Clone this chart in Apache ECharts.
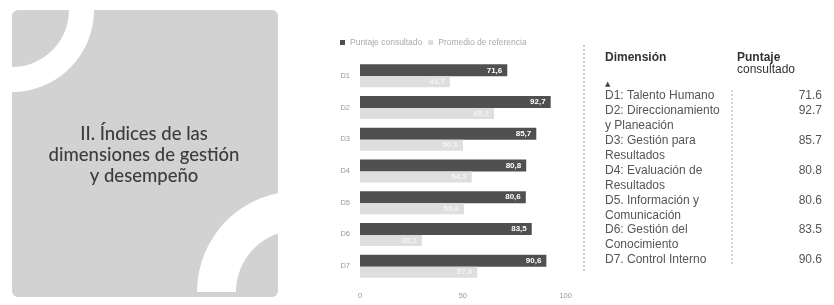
<!DOCTYPE html>
<html><head><meta charset="utf-8">
<script src="https://cdn.jsdelivr.net/npm/echarts@6/dist/echarts.min.js"></script>
<style>html,body{margin:0;padding:0;background:#fff}#c{width:834px;height:305px}</style>
</head><body><div id="c"></div>
<script>
var categories = ['D1','D2','D3','D4','D5','D6','D7'];
var puntajeConsultado = [71.6, 92.7, 85.7, 80.8, 80.6, 83.5, 90.6];
var promedioReferencia = [43.7, 65.2, 50.1, 54.3, 50.6, 30.1, 57.0];
var xTicks = [0, 50, 100];
var seriesNames = ['Puntaje consultado', 'Promedio de referencia'];
var tableDimensions = [
  ['D1: Talento Humano'],
  ['D2: Direccionamiento', 'y Planeación'],
  ['D3: Gestión para', 'Resultados'],
  ['D4: Evaluación de', 'Resultados'],
  ['D5. Información y', 'Comunicación'],
  ['D6: Gestión del', 'Conocimiento'],
  ['D7. Control Interno']
];
var tableValues = ['71.6', '92.7', '85.7', '80.8', '80.6', '83.5', '90.6'];
var titleLines = ['II. Índices de las', 'dimensiones de gestión', 'y desempeño'];

var chart = echarts.init(document.getElementById('c'));
var fmt = function (p) { return p.value.toFixed(1).replace('.', ','); };

var graphics = [];
// left panel
graphics.push({type:'rect', shape:{x:12,y:10,width:266,height:287,r:6}, style:{fill:'#d2d2d2'}, z:1});
graphics.push({type:'sector', shape:{cx:12,cy:10,r:82,r0:57,startAngle:0,endAngle:Math.PI/2}, style:{fill:'#ffffff'}, z:2});
graphics.push({type:'sector', shape:{cx:298,cy:292,r:101,r0:62,startAngle:Math.PI,endAngle:Math.PI*1.5}, style:{fill:'#ffffff'}, z:2});
graphics.push({type:'rect', shape:{x:278,y:0,width:30,height:305}, style:{fill:'#ffffff'}, z:3});
graphics.push({type:'rect', shape:{x:0,y:297,width:310,height:10}, style:{fill:'#ffffff'}, z:3});
titleLines.forEach(function (t, i) {
  graphics.push({type:'text', x:144, y:134 + i*21, z:4,
    style:{text:t, fill:'#3c3c3c', font:'500 18.5px Lato', textAlign:'center', textVerticalAlign:'middle'}});
});
// table
var tx = 605, vx = 822, fs = '12px "Liberation Sans"';
graphics.push({type:'line', shape:{x1:584,y1:45,x2:584,y2:272}, style:{stroke:'#999', lineWidth:1, lineDash:[2,2]}, z:4});
graphics.push({type:'line', shape:{x1:732,y1:90,x2:732,y2:266}, style:{stroke:'#aaa', lineWidth:1, lineDash:[2,2]}, z:4});
graphics.push({type:'text', x:tx, y:58, z:5, style:{text:'Dimensión', fill:'#333', font:'bold 12px "Liberation Sans"', textVerticalAlign:'middle'}});
graphics.push({type:'text', x:737, y:58, z:5, style:{text:'Puntaje', fill:'#333', font:'bold 12px "Liberation Sans"', textVerticalAlign:'middle'}});
graphics.push({type:'text', x:737, y:70, z:5, style:{text:'consultado', fill:'#333', font:fs, textVerticalAlign:'middle'}});
graphics.push({type:'text', x:tx, y:84, z:5, style:{text:'▲', fill:'#444', font:'7px "DejaVu Sans"', textVerticalAlign:'middle'}});
var y = 96, step = 14.9;
tableDimensions.forEach(function (lines, i) {
  graphics.push({type:'text', x:vx, y:y, z:5, style:{text:tableValues[i], fill:'#555', font:fs, textAlign:'right', textVerticalAlign:'middle'}});
  lines.forEach(function (l, j) {
    graphics.push({type:'text', x:tx, y:y + j*step, z:5, style:{text:l, fill:'#555', font:fs, textVerticalAlign:'middle'}});
  });
  y += lines.length*step;
});

chart.setOption({
  animation:false,
  backgroundColor:'#fff',
  legend:{left:335, top:33, itemWidth:5, itemHeight:5, itemGap:6,
    textStyle:{fontSize:8.5, color:'#aaa', fontFamily:'Liberation Sans'},
    data:[{name:seriesNames[0], icon:'rect'}, {name:seriesNames[1], icon:'rect'}]},
  grid:{left:360, top:60, width:205.7, height:222, containLabel:false},
  xAxis:{type:'value', min:0, max:100, interval:50,
    axisLine:{show:false}, axisTick:{show:false}, splitLine:{show:false},
    axisLabel:{fontSize:7.5, color:'#999', margin:10, fontFamily:'Liberation Sans',
      formatter:function(v){return xTicks.indexOf(v) >= 0 ? String(v) : '';}}},
  yAxis:{type:'category', data:categories, inverse:true,
    axisLine:{show:false}, axisTick:{show:false},
    axisLabel:{fontSize:7.5, color:'#999', margin:10, fontFamily:'Liberation Sans'}},
  series:[
    {name:seriesNames[0], type:'bar', data:puntajeConsultado, barWidth:12, barGap:'0%',
      itemStyle:{color:'#505050'},
      label:{show:true, position:'insideRight', color:'#fff', fontSize:8, fontWeight:'bold', formatter:fmt}},
    {name:seriesNames[1], type:'bar', data:promedioReferencia, barWidth:11, barGap:'0%',
      itemStyle:{color:'#dedede'},
      label:{show:true, position:'insideRight', color:'#f4f4f4', fontSize:8, fontWeight:'bold', formatter:fmt}}
  ],
  graphic:graphics
});
</script></body></html>
